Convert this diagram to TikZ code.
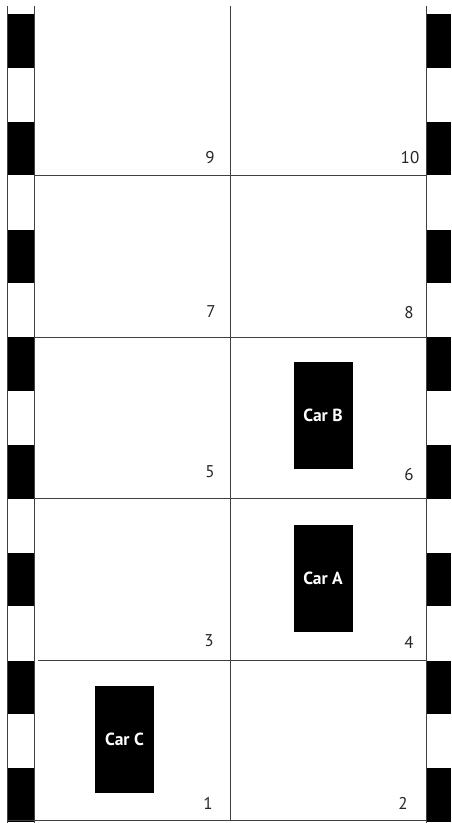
\documentclass[tikz,border=0pt]{standalone}
\usepackage{fontspec}
\setmainfont{PT Sans}
\begin{document}
\begin{tikzpicture}[x=1pt,y=-1pt,
  gridline/.style={draw=black!75,line width=0.9pt},
  stripe/.style={fill=black,draw=none},
  car/.style={fill=black,draw=none,text=white,font=\fontsize{17.5}{19}\selectfont\bfseries,minimum width=59pt,minimum height=107pt,inner sep=0pt},
  num/.style={anchor=base,text=black!85,font=\fontsize{17}{19}\selectfont,inner sep=0pt}]
\useasboundingbox[fill=white] (0,0) rectangle (451,823);
% stripes
\foreach \k in {0,...,7}{
  \fill[stripe] (7,{14+\k*107.75}) rectangle (34,{14+\k*107.75+53.5});
  \fill[stripe] (426,{14+\k*107.75}) rectangle (451,{14+\k*107.75+53.5});
}
% vertical lines
\draw[gridline] (7,6) -- (7,823);
\draw[gridline] (34,6) -- (34,823);
\draw[gridline] (230,6) -- (230,820);
\draw[gridline] (426,6) -- (426,823);
% horizontal lines
\draw[gridline] (34,175) -- (426,175);
\draw[gridline] (34,337) -- (426,337);
\draw[gridline] (34,498) -- (426,498);
\draw[gridline] (38,660) -- (426,660);
\draw[gridline] (7,820) -- (426,820);
% numbers
\node[num] (n9) at (210,163) {9};
\node[num] (n10) at (410,163) {10};
\node[num] (n7) at (211,317) {7};
\node[num] (n8) at (409,318) {8};
\node[num] (n5) at (210,477) {5};
\node[num] (n6) at (409,480) {6};
\node[num] (n3) at (209,646) {3};
\node[num] (n4) at (409,648) {4};
\node[num] (n1) at (208,809) {1};
\node[num] (n2) at (403,809) {2};
% cars
\node[car] (carB) at (323,415.5) {Car B};
\node[car] (carA) at (323,578) {Car A};
\node[car] (carC) at (124.5,739.5) {Car C};
\end{tikzpicture}
\end{document}
